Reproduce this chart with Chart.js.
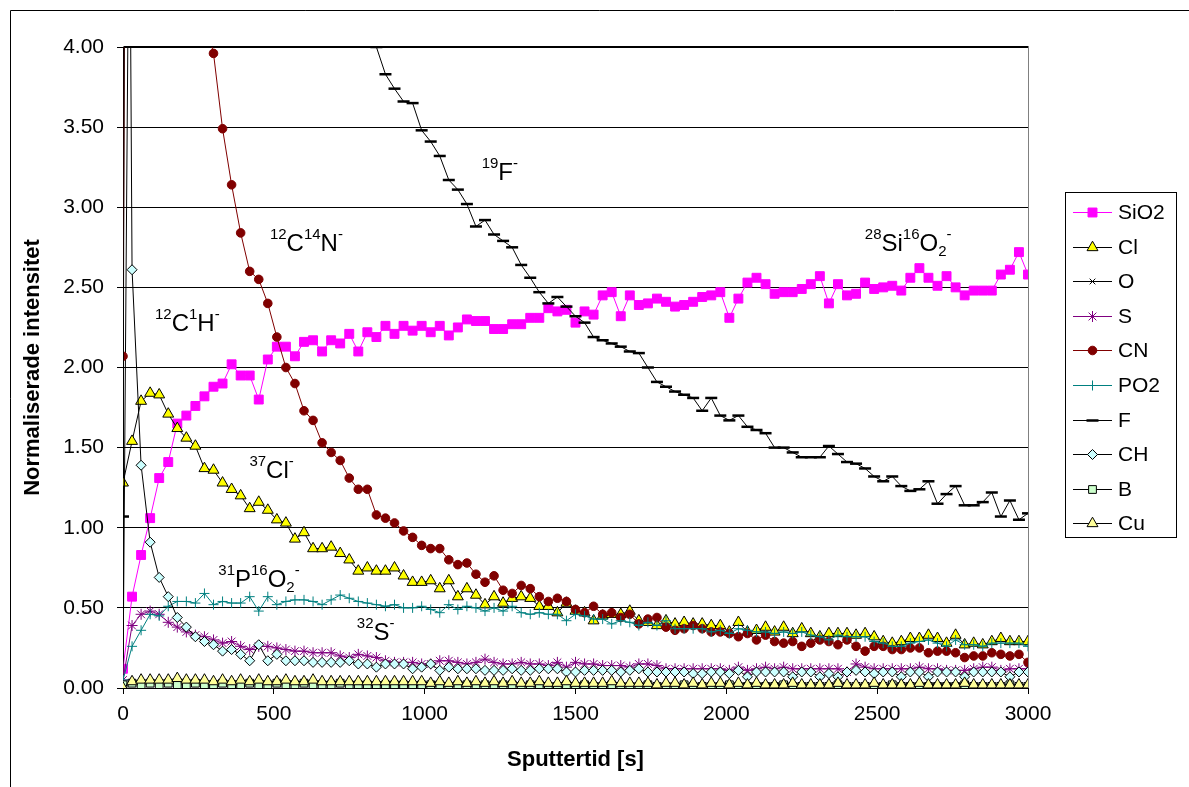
<!DOCTYPE html>
<html>
<head>
<meta charset="utf-8">
<script src="https://cdn.jsdelivr.net/npm/chart.js@4/dist/chart.umd.min.js"></script>
<style>
  html, body { margin: 0; padding: 0; background: #fff; }
  #wrap { position: relative; width: 1189px; height: 787px; }
</style>
</head>
<body>
<div id="wrap"><canvas id="myChart" width="1189" height="787"></canvas></div>
<script>
// sputter time [s], one sample every 30 s
const times = [
  0, 30, 60, 90, 120, 150, 180, 210, 240, 270,
  300, 330, 360, 390, 420, 450, 480, 510, 540, 570,
  600, 630, 660, 690, 720, 750, 780, 810, 840, 870,
  900, 930, 960, 990, 1020, 1050, 1080, 1110, 1140, 1170,
  1200, 1230, 1260, 1290, 1320, 1350, 1380, 1410, 1440, 1470,
  1500, 1530, 1560, 1590, 1620, 1650, 1680, 1710, 1740, 1770,
  1800, 1830, 1860, 1890, 1920, 1950, 1980, 2010, 2040, 2070,
  2100, 2130, 2160, 2190, 2220, 2250, 2280, 2310, 2340, 2370,
  2400, 2430, 2460, 2490, 2520, 2550, 2580, 2610, 2640, 2670,
  2700, 2730, 2760, 2790, 2820, 2850, 2880, 2910, 2940, 2970,
  3000
];

const sio2 = [
  0.12, 0.57, 0.83, 1.06, 1.31, 1.41, 1.65, 1.70, 1.76, 1.82,
  1.88, 1.90, 2.02, 1.95, 1.95, 1.80, 2.05, 2.13, 2.13, 2.07,
  2.16, 2.17, 2.10, 2.17, 2.15, 2.21, 2.10, 2.22, 2.19, 2.26,
  2.21, 2.26, 2.23, 2.26, 2.22, 2.26, 2.20, 2.25, 2.30, 2.29,
  2.29, 2.24, 2.24, 2.27, 2.27, 2.31, 2.31, 2.37, 2.35, 2.36,
  2.28, 2.35, 2.33, 2.45, 2.47, 2.32, 2.45, 2.39, 2.40, 2.43,
  2.41, 2.38, 2.39, 2.41, 2.44, 2.45, 2.47, 2.31, 2.43, 2.53,
  2.56, 2.52, 2.46, 2.47, 2.47, 2.49, 2.52, 2.57, 2.40, 2.52,
  2.45, 2.46, 2.53, 2.49, 2.50, 2.51, 2.48, 2.56, 2.62, 2.56,
  2.51, 2.57, 2.50, 2.45, 2.48, 2.48, 2.48, 2.58, 2.61, 2.72,
  2.58
];

const cl = [
  1.28, 1.54, 1.79, 1.84, 1.83, 1.71, 1.62, 1.56, 1.51, 1.37,
  1.36, 1.28, 1.24, 1.20, 1.12, 1.16, 1.11, 1.05, 1.03, 0.93,
  0.97, 0.87, 0.87, 0.88, 0.84, 0.80, 0.73, 0.75, 0.73, 0.73,
  0.75, 0.70, 0.66, 0.66, 0.67, 0.62, 0.67, 0.57, 0.62, 0.58,
  0.52, 0.57, 0.53, 0.56, 0.57, 0.56, 0.51, 0.51, 0.47, 0.53,
  0.48, 0.47, 0.42, 0.45, 0.46, 0.46, 0.48, 0.42, 0.41, 0.39,
  0.42, 0.40, 0.41, 0.40, 0.40, 0.39, 0.39, 0.35, 0.41, 0.35,
  0.36, 0.38, 0.35, 0.38, 0.34, 0.37, 0.34, 0.32, 0.34, 0.34,
  0.34, 0.33, 0.34, 0.32, 0.29, 0.28, 0.29, 0.31, 0.31, 0.33,
  0.31, 0.28, 0.33, 0.27, 0.28, 0.27, 0.29, 0.31, 0.29, 0.29,
  0.29
];

// O sits above the 4.00 limit after the first sample
const oxy = [0.05, 7.5, 7.8, 7.6];

const sulf = [
  0.05, 0.39, 0.46, 0.48, 0.46, 0.41, 0.38, 0.35, 0.33, 0.32,
  0.30, 0.28, 0.29, 0.26, 0.24, 0.26, 0.26, 0.25, 0.24, 0.23,
  0.23, 0.22, 0.22, 0.22, 0.20, 0.19, 0.21, 0.20, 0.19, 0.17,
  0.16, 0.16, 0.16, 0.15, 0.15, 0.17, 0.17, 0.16, 0.15, 0.16,
  0.18, 0.16, 0.15, 0.15, 0.16, 0.15, 0.15, 0.14, 0.16, 0.13,
  0.16, 0.15, 0.15, 0.14, 0.14, 0.14, 0.13, 0.15, 0.15, 0.14,
  0.12, 0.12, 0.12, 0.12, 0.12, 0.12, 0.12, 0.11, 0.13, 0.11,
  0.12, 0.13, 0.12, 0.13, 0.12, 0.12, 0.12, 0.12, 0.12, 0.12,
  0.10, 0.15, 0.13, 0.12, 0.12, 0.12, 0.12, 0.12, 0.13, 0.12,
  0.12, 0.11, 0.11, 0.11, 0.12, 0.13, 0.13, 0.11, 0.12, 0.12,
  0.12
];

const cn = [
  2.07, 15, 13, 11, 9.5, 8.0, 6.8, 5.7, 4.9, 4.2,
  3.96, 3.49, 3.14, 2.84, 2.60, 2.55, 2.40, 2.19, 2.00, 1.90,
  1.73, 1.67, 1.53, 1.47, 1.42, 1.31, 1.24, 1.24, 1.08, 1.06,
  1.03, 0.98, 0.94, 0.89, 0.87, 0.87, 0.80, 0.77, 0.78, 0.71,
  0.66, 0.70, 0.61, 0.59, 0.64, 0.62, 0.57, 0.54, 0.56, 0.54,
  0.49, 0.47, 0.51, 0.46, 0.47, 0.44, 0.46, 0.40, 0.43, 0.44,
  0.38, 0.36, 0.37, 0.39, 0.37, 0.35, 0.35, 0.34, 0.32, 0.34,
  0.30, 0.33, 0.29, 0.28, 0.29, 0.26, 0.28, 0.30, 0.29, 0.27,
  0.30, 0.26, 0.23, 0.26, 0.26, 0.24, 0.24, 0.25, 0.25, 0.22,
  0.23, 0.23, 0.22, 0.19, 0.20, 0.20, 0.22, 0.21, 0.20, 0.21,
  0.16
];

const po2 = [
  0.05, 0.26, 0.36, 0.46, 0.45, 0.51, 0.54, 0.54, 0.53, 0.59,
  0.52, 0.54, 0.53, 0.53, 0.57, 0.48, 0.57, 0.52, 0.54, 0.55,
  0.55, 0.54, 0.52, 0.55, 0.58, 0.56, 0.54, 0.53, 0.52, 0.51,
  0.52, 0.50, 0.50, 0.51, 0.49, 0.47, 0.52, 0.49, 0.51, 0.50,
  0.48, 0.50, 0.48, 0.51, 0.47, 0.46, 0.47, 0.46, 0.46, 0.42,
  0.46, 0.45, 0.43, 0.43, 0.40, 0.42, 0.41, 0.39, 0.41, 0.39,
  0.42, 0.37, 0.37, 0.37, 0.37, 0.35, 0.36, 0.34, 0.37, 0.36,
  0.35, 0.35, 0.34, 0.35, 0.34, 0.35, 0.33, 0.32, 0.30, 0.33,
  0.32, 0.32, 0.32, 0.29, 0.28, 0.26, 0.26, 0.28, 0.29, 0.30,
  0.28, 0.26, 0.30, 0.27, 0.27, 0.26, 0.28, 0.28, 0.28, 0.28,
  0.26
];

const fluor = [
  1.07, 24, 20, 17, 15, 13.5, 12, 11, 10, 9.2,
  8.5, 7.9, 7.4, 7.0, 6.6, 6.3, 6.0, 5.8, 5.6, 5.4,
  5.2, 5.1, 5.0, 4.9, 4.8, 4.7, 4.6, 4.05, 4.00, 3.83,
  3.74, 3.66, 3.65, 3.48, 3.41, 3.32, 3.17, 3.11, 3.02, 2.88,
  2.92, 2.83, 2.79, 2.75, 2.64, 2.56, 2.47, 2.40, 2.44, 2.38,
  2.32, 2.28, 2.19, 2.17, 2.15, 2.13, 2.10, 2.09, 2.00, 1.91,
  1.88, 1.85, 1.83, 1.81, 1.73, 1.81, 1.70, 1.67, 1.70, 1.63,
  1.61, 1.59, 1.50, 1.50, 1.47, 1.44, 1.44, 1.44, 1.51, 1.46,
  1.41, 1.40, 1.37, 1.32, 1.29, 1.32, 1.26, 1.23, 1.24, 1.29,
  1.15, 1.21, 1.26, 1.14, 1.14, 1.16, 1.22, 1.07, 1.17, 1.05,
  1.09
];

const ch = [
  12, 2.61, 1.39, 0.91, 0.69, 0.57, 0.44, 0.38, 0.32, 0.29,
  0.27, 0.23, 0.24, 0.21, 0.17, 0.27, 0.17, 0.21, 0.17, 0.17,
  0.17, 0.16, 0.16, 0.16, 0.16, 0.17, 0.15, 0.15, 0.13, 0.15,
  0.15, 0.15, 0.12, 0.13, 0.15, 0.11, 0.13, 0.12, 0.12, 0.12,
  0.11, 0.11, 0.11, 0.12, 0.11, 0.11, 0.12, 0.12, 0.12, 0.10,
  0.10, 0.11, 0.11, 0.11, 0.11, 0.10, 0.11, 0.12, 0.10, 0.10,
  0.10, 0.10, 0.10, 0.09, 0.09, 0.10, 0.10, 0.09, 0.11, 0.07,
  0.10, 0.10, 0.10, 0.10, 0.07, 0.10, 0.10, 0.07, 0.09, 0.07,
  0.10, 0.11, 0.10, 0.09, 0.10, 0.10, 0.07, 0.10, 0.10, 0.07,
  0.10, 0.10, 0.10, 0.07, 0.10, 0.10, 0.10, 0.10, 0.07, 0.10,
  0.10
];

const boron = [
  0.02, 0.03, 0.02, 0.03, 0.02, 0.03, 0.02, 0.02, 0.03, 0.02,
  0.02, 0.03, 0.02, 0.02, 0.03, 0.02, 0.02, 0.03, 0.02, 0.02,
  0.03, 0.02, 0.02, 0.02, 0.03, 0.02, 0.02, 0.02, 0.01, 0.02,
  0.02, 0.02, 0.01, 0.02, 0.02, 0.02, 0.01, 0.02, 0.02, 0.01,
  0.02, 0.01, 0.02, 0.02, 0.01, 0.02, 0.02, 0.01, 0.01, 0.02,
  0.01, 0.02, 0.01, 0.01, 0.02, 0.01, 0.01, 0.01, 0.02, 0.01,
  0.01, 0.01, 0.02, 0.01, 0.01, 0.01, 0.01, 0.02, 0.01, 0.01,
  0.01, 0.01, 0.01, 0.02, 0.01, 0.01, 0.01, 0.01, 0.01, 0.02,
  0.01, 0.01, 0.01, 0.01, 0.01, 0.02, 0.01, 0.01, 0.01, 0.01,
  0.01, 0.01, 0.01, 0.02, 0.01, 0.01, 0.01, 0.01, 0.02, 0.01,
  0.01
];

const copper = [
  0.00, 0.04, 0.05, 0.05, 0.05, 0.05, 0.06, 0.05, 0.05, 0.05,
  0.04, 0.05, 0.04, 0.05, 0.04, 0.05, 0.04, 0.04, 0.05, 0.04,
  0.04, 0.05, 0.04, 0.04, 0.04, 0.04, 0.04, 0.04, 0.04, 0.04,
  0.04, 0.04, 0.04, 0.04, 0.03, 0.04, 0.03, 0.04, 0.03, 0.04,
  0.03, 0.04, 0.03, 0.04, 0.03, 0.03, 0.04, 0.03, 0.03, 0.04,
  0.03, 0.03, 0.03, 0.03, 0.04, 0.03, 0.03, 0.03, 0.03, 0.02,
  0.03, 0.03, 0.02, 0.03, 0.02, 0.03, 0.03, 0.02, 0.03, 0.02,
  0.03, 0.02, 0.02, 0.02, 0.03, 0.02, 0.02, 0.02, 0.02, 0.03,
  0.02, 0.02, 0.02, 0.03, 0.02, 0.02, 0.02, 0.02, 0.03, 0.02,
  0.02, 0.02, 0.02, 0.03, 0.02, 0.02, 0.02, 0.02, 0.02, 0.02,
  0.02
];

const yTicks = [0, 0.5, 1, 1.5, 2, 2.5, 3, 3.5, 4];
const xTicks = [0, 500, 1000, 1500, 2000, 2500, 3000];

const seriesList = [
  { label: "SiO2", values: sio2,   line: "#ff00ff", fill: "#ff00ff", edge: "#ff00ff", style: "rect",     r: 6.3 },
  { label: "Cl",   values: cl,     line: "#000000", fill: "#ffff00", edge: "#000000", style: "triangle", r: 6.3 },
  { label: "O",    values: oxy,    line: "#000000", fill: "#000000", edge: "#000000", style: "crossRot", r: 4 },
  { label: "S",    values: sulf,   line: "#800080", fill: "#800080", edge: "#800080", style: "star",     r: 5.5 },
  { label: "CN",   values: cn,     line: "#800000", fill: "#800000", edge: "#800000", style: "circle",   r: 4.3 },
  { label: "PO2",  values: po2,    line: "#008080", fill: "#008080", edge: "#008080", style: "cross",    r: 5 },
  { label: "F",    values: fluor,  line: "#000000", fill: "#000000", edge: "#000000", style: "line",     r: 6, pw: 2.5 },
  { label: "CH",   values: ch,     line: "#000000", fill: "#ccffff", edge: "#000000", style: "rectRot",  r: 5 },
  { label: "B",    values: boron,  line: "#000000", fill: "#ccffcc", edge: "#000000", style: "rect",     r: 5.5 },
  { label: "Cu",   values: copper, line: "#000000", fill: "#ffff99", edge: "#000000", style: "triangle", r: 6.3 },
];

// ion labels written on the plot: [text, "sup"|"sub"|""]
const ionLabels = [
  { t: 487,  v: 2.73, parts: [["12", "sup"], ["C", ""], ["14", "sup"], ["N", ""], ["-", "sup"]] },
  { t: 1189, v: 3.17, parts: [["19", "sup"], ["F", ""], ["-", "sup"]] },
  { t: 2459, v: 2.73, parts: [["28", "sup"], ["Si", ""], ["16", "sup"], ["O", ""], ["2", "sub"], ["-", "sup"]] },
  { t: 106,  v: 2.23, parts: [["12", "sup"], ["C", ""], ["1", "sup"], ["H", ""], ["-", "sup"]] },
  { t: 419,  v: 1.31, parts: [["37", "sup"], ["Cl", ""], ["-", "sup"]] },
  { t: 316,  v: 0.63, parts: [["31", "sup"], ["P", ""], ["16", "sup"], ["O", ""], ["2", "sub"], ["-", "sup"]] },
  { t: 775,  v: 0.30, parts: [["32", "sup"], ["S", ""], ["-", "sup"]] },
];

const FONT = '"Liberation Sans", Arial, Helvetica, sans-serif';
Chart.defaults.font.family = FONT;
Chart.defaults.color = "#000";

const datasets = seriesList.map((s, i) => ({
  label: s.label,
  data: s.values.map((v, k) => ({ x: times[k], y: v })),
  borderColor: s.line,
  borderWidth: 1,
  pointStyle: s.style,
  pointRadius: s.r,
  pointHoverRadius: s.r,
  pointBackgroundColor: s.fill,
  pointBorderColor: s.edge,
  pointBorderWidth: s.pw || 1,
  tension: 0,
  fill: false,
  order: seriesList.length - i,
}));

function markPoint(c, s, x, y) {
  c.fillStyle = s.fill;
  c.strokeStyle = s.edge;
  c.lineWidth = s.pw || 1;
  if (Chart.helpers && Chart.helpers.drawPoint) {
    Chart.helpers.drawPoint(c, { pointStyle: s.style, radius: s.r, rotation: 0, borderWidth: s.pw || 1 }, x, y);
  }
}

const framePlugin = {
  id: "frame",
  beforeDraw(chart) {
    const c = chart.ctx;
    c.save();
    c.fillStyle = "#fff";
    c.fillRect(0, 0, chart.width, chart.height);
    c.strokeStyle = "#000";
    c.lineWidth = 1;
    c.beginPath();
    c.moveTo(10.5, chart.height);
    c.lineTo(10.5, 10.5);
    c.lineTo(chart.width, 10.5);
    c.stroke();
    c.restore();
  },
  beforeDatasetsDraw(chart) {
    const a = chart.chartArea;
    const c = chart.ctx;
    c.save();
    c.strokeStyle = "#000";
    c.lineWidth = 1;
    c.beginPath();
    c.moveTo(Math.round(a.left) + 0.5, Math.round(a.top) - 0.5);
    c.lineTo(Math.round(a.right) + 0.5, Math.round(a.top) - 0.5);
    c.stroke();
    c.strokeStyle = "#808080";
    c.beginPath();
    c.moveTo(Math.round(a.right) + 0.5, Math.round(a.top));
    c.lineTo(Math.round(a.right) + 0.5, Math.round(a.bottom));
    c.stroke();
    c.restore();
  },
};

const legendPlugin = {
  id: "legendBox",
  afterDraw(chart) {
    const c = chart.ctx;
    c.save();
    c.strokeStyle = "#000";
    c.lineWidth = 1;
    c.strokeRect(1065.5, 192.5, 111, 345);
    c.font = "21px " + FONT;
    c.textBaseline = "middle";
    c.textAlign = "left";
    seriesList.forEach((s, i) => {
      const y = Math.round(212 + i * 34.6);
      c.strokeStyle = s.line;
      c.lineWidth = 1;
      c.beginPath();
      c.moveTo(1073, y + 0.5);
      c.lineTo(1112, y + 0.5);
      c.stroke();
      markPoint(c, s, 1092.5, y + 0.5);
      c.fillStyle = "#000";
      c.fillText(s.label, 1118, y + 1);
    });
    c.restore();
  },
};

const ionPlugin = {
  id: "ionLabels",
  afterDatasetsDraw(chart) {
    const c = chart.ctx;
    const xs = chart.scales.x, ys = chart.scales.y;
    c.save();
    c.fillStyle = "#000";
    c.textBaseline = "alphabetic";
    c.textAlign = "left";
    ionLabels.forEach((lab) => {
      let x = xs.getPixelForValue(lab.t);
      const y = ys.getPixelForValue(lab.v);
      lab.parts.forEach(([txt, mode]) => {
        let dy = 0;
        if (mode === "sup") { c.font = "15px " + FONT; dy = -12; }
        else if (mode === "sub") { c.font = "15px " + FONT; dy = 5; }
        else { c.font = "24px " + FONT; }
        c.fillText(txt, x, y + dy);
        x += c.measureText(txt).width;
      });
    });
    c.restore();
  },
};

const ctx = document.getElementById("myChart");
const myChart = new Chart(ctx, {
  type: "line",
  data: { datasets: datasets },
  options: {
    responsive: false,
    animation: false,
    devicePixelRatio: 1,
    layout: { padding: { left: 0, top: 47, right: 161, bottom: 0 } },
    plugins: {
      legend: { display: false },
      tooltip: { enabled: false },
    },
    scales: {
      x: {
        type: "linear",
        min: 0,
        max: 3000,
        afterFit: (scale) => { scale.height = 99; },
        afterBuildTicks: (scale) => { scale.ticks = xTicks.map((v) => ({ value: v })); },
        ticks: {
          font: { size: 21 },
          padding: 8,
          maxRotation: 0,
          color: "#000",
          callback: (v) => String(v),
        },
        grid: { drawOnChartArea: false, drawTicks: true, tickLength: 6, color: "#000" },
        border: { display: true, color: "#000" },
        title: {
          display: true,
          text: "Sputtertid [s]",
          font: { size: 22, weight: "bold" },
          color: "#000",
          padding: { top: 0, bottom: 14 },
        },
      },
      y: {
        type: "linear",
        min: 0,
        max: 4,
        afterFit: (scale) => { scale.width = 123; },
        afterBuildTicks: (scale) => { scale.ticks = yTicks.map((v) => ({ value: v })); },
        ticks: {
          font: { size: 21 },
          padding: 13,
          color: "#000",
          callback: (v) => Number(v).toFixed(2),
        },
        grid: { color: "#000", lineWidth: 1, tickLength: 6 },
        border: { display: true, color: "#000" },
        title: {
          display: true,
          text: "Normaliserade intensitet",
          font: { size: 22, weight: "bold" },
          color: "#000",
          padding: { top: 20, bottom: 0 },
        },
      },
    },
  },
  plugins: [framePlugin, legendPlugin, ionPlugin],
});
</script>
</body>
</html>
